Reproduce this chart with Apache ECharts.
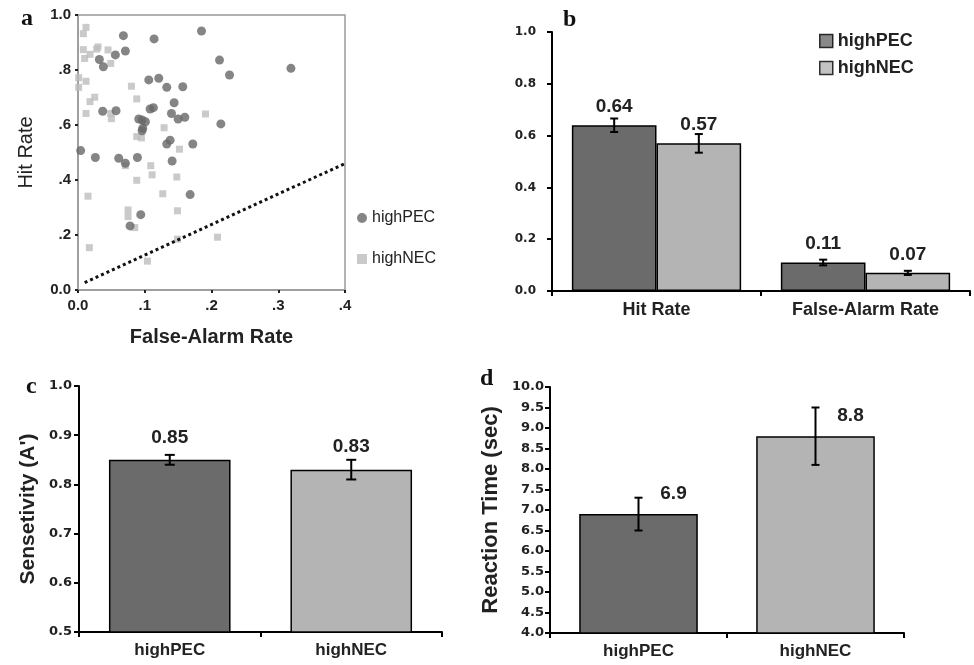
<!DOCTYPE html>
<html><head><meta charset="utf-8">
<script src="https://cdn.jsdelivr.net/npm/echarts@6/dist/echarts.min.js"></script>
<style>html,body{margin:0;padding:0;background:#fff}#c{width:974px;height:665px}</style>
</head><body><div id="c"></div>
<script>
// ---- Panel a: scatter ----
const pecFA  = [0.068,0.114,0.185,0.071,0.056,0.032,0.038,0.212,0.227,0.319,0.106,0.121,0.133,0.157,0.144,0.037,0.057,0.108,0.113,0.140,0.150,0.160,0.091,0.096,0.101,0.097,0.096,0.214,0.004,0.026,0.061,0.071,0.089,0.133,0.138,0.172,0.141,0.168,0.094,0.078];
const pecHit = [0.925,0.913,0.942,0.869,0.855,0.838,0.812,0.836,0.782,0.806,0.764,0.770,0.737,0.739,0.681,0.650,0.652,0.658,0.663,0.642,0.622,0.628,0.622,0.618,0.612,0.588,0.579,0.604,0.507,0.482,0.479,0.461,0.482,0.531,0.545,0.531,0.469,0.347,0.274,0.233];
const necFA  = [0.012,0.008,0.008,0.010,0.018,0.028,0.030,0.045,0.049,0.001,0.001,0.012,0.080,0.018,0.025,0.012,0.049,0.050,0.088,0.191,0.129,0.088,0.095,0.152,0.071,0.109,0.111,0.148,0.088,0.015,0.127,0.075,0.075,0.149,0.085,0.149,0.209,0.017,0.104];
const necHit = [0.955,0.932,0.874,0.842,0.857,0.876,0.884,0.873,0.824,0.772,0.737,0.759,0.741,0.685,0.701,0.642,0.642,0.623,0.695,0.640,0.590,0.558,0.553,0.512,0.452,0.452,0.419,0.411,0.399,0.341,0.350,0.291,0.267,0.288,0.227,0.185,0.192,0.154,0.105];
const chanceLine = [[0.01,0.027],[0.4,0.46]];
const aXTicks = {0:'0.0',0.1:'.1',0.2:'.2',0.3:'.3',0.4:'.4'};
const aYTicks = {0:'0.0',0.2:'.2',0.4:'.4',0.6:'.6',0.8:'.8',1:'1.0'};

// ---- Panel b ----
const groups = ['highPEC','highNEC'];
const bCategories = ['Hit Rate','False-Alarm Rate'];
const bPEC = [0.64, 0.11];
const bPECErr = [0.026, 0.011];
const bNEC = [0.57, 0.07];
const bNECErr = [0.036, 0.008];

// ---- Panel c ----
const sensitivity = [0.85, 0.83];
const sensErr = [0.01, 0.02];

// ---- Panel d ----
const reactionTime = [6.9, 8.8];
const rtErr = [0.4, 0.7];

const DARK = '#6b6b6b', LIGHT = '#b4b4b4';
const FONT = "'Liberation Sans', Arial, sans-serif";
const WIDE = "'DejaVu Sans', Verdana, sans-serif";

function pairs(xs, ys){ return xs.map((x,i)=>[x, ys[i]]); }
function errData(v, e){ return v.map((m,i)=>[i, m-e[i], m+e[i]]); }
function errRender(frac, cap){
  return function(params, api){
    const x = api.value(0);
    const w = api.size([1,0])[0];
    const dx = frac * w;
    const lo = api.coord([x, api.value(1)]);
    const hi = api.coord([x, api.value(2)]);
    const cx = lo[0] + dx;
    const st = {stroke:'#000', lineWidth:2};
    return {type:'group', children:[
      {type:'line', shape:{x1:cx,y1:lo[1],x2:cx,y2:hi[1]}, style:st},
      {type:'line', shape:{x1:cx-cap,y1:lo[1],x2:cx+cap,y2:lo[1]}, style:st},
      {type:'line', shape:{x1:cx-cap,y1:hi[1],x2:cx+cap,y2:hi[1]}, style:st}
    ]};
  };
}
const barAxisLine = {show:true, lineStyle:{color:'#000', width:2}};
const barTick = {show:true, inside:false, length:5, lineStyle:{color:'#000', width:2}};
const tickLabel = (sz, fam)=>({color:'#222', fontFamily:fam||FONT, fontWeight:'bold', fontSize:sz});
const catStyle = (sz)=>({color:'#222', fontFamily:FONT, fontWeight:'bold', fontSize:sz});
const nameStyle = (sz)=>({color:'#222', fontFamily:FONT, fontWeight:'bold', fontSize:sz});
const valLabel = {fontFamily:FONT, fontWeight:'bold', fontSize:19, color:'#222'};
const letter = (t,l,tp)=>({text:t, left:l, top:tp, textStyle:{fontFamily:"'Liberation Serif', 'Times New Roman', serif", fontWeight:'bold', fontSize:24, color:'#111'}});
const bgap = 0.19;

const option = {
  animation:false,
  backgroundColor:'#fff',
  title:[letter('a',16,2), letter('b',558,3), letter('c',21,370), letter('d',475,362)],
  legend:[
    {left:352, top:205, orient:'vertical', itemWidth:10, itemHeight:10, itemGap:25, selectedMode:false,
     textStyle:{fontFamily:FONT, fontSize:16, color:'#222'},
     data:[{name:'highPEC', icon:'circle', itemStyle:{color:'#666'}},
           {name:'highNEC', icon:'rect', itemStyle:{color:'#bdbdbd'}}]},
    {left:814, top:27, orient:'vertical', itemWidth:13, itemHeight:13, itemGap:9, selectedMode:false,
     textStyle:{fontFamily:FONT, fontSize:18, fontWeight:'bold', color:'#222'},
     data:[{name:'highPEC', icon:'rect', itemStyle:{color:DARK, borderColor:'#000', borderWidth:1.5}},
           {name:'highNEC', icon:'rect', itemStyle:{color:LIGHT, borderColor:'#000', borderWidth:1.5}}]}
  ],
  grid:[
    {left:78, top:15, width:267, height:275, show:true, borderColor:'#999', borderWidth:1.5, backgroundColor:'transparent'},
    {left:552, top:32, width:418, height:259},
    {left:79, top:386, width:363, height:246},
    {left:550, top:387, width:354, height:246}
  ],
  xAxis:[
    {gridIndex:0, type:'value', min:0, max:0.4, interval:0.1, splitLine:{show:false},
     axisLine:{show:true, lineStyle:{color:'#999', width:1.5}},
     axisTick:{show:true, length:3, lineStyle:{color:'#222', width:2}},
     axisLabel:Object.assign(tickLabel(15), {formatter:v=>aXTicks[Math.round(v*10)/10], margin:8}),
     name:'False-Alarm Rate', nameLocation:'middle', nameGap:37, nameTextStyle:nameStyle(20)},
    {gridIndex:1, type:'category', data:bCategories, axisLine:barAxisLine, axisTick:barTick,
     axisLabel:Object.assign(catStyle(18), {margin:10})},
    {gridIndex:2, type:'category', data:groups, axisLine:barAxisLine, axisTick:barTick,
     axisLabel:Object.assign(catStyle(17), {margin:10})},
    {gridIndex:3, type:'category', data:groups, axisLine:barAxisLine, axisTick:barTick,
     axisLabel:Object.assign(catStyle(17), {margin:10})}
  ],
  yAxis:[
    {gridIndex:0, type:'value', min:0, max:1, interval:0.2, splitLine:{show:false},
     axisLine:{show:true, lineStyle:{color:'#999', width:1.5}},
     axisTick:{show:true, length:3, lineStyle:{color:'#222', width:2}},
     axisLabel:Object.assign(tickLabel(15), {formatter:v=>aYTicks[Math.round(v*10)/10], margin:7}),
     name:'Hit Rate', nameLocation:'middle', nameGap:42, nameTextStyle:{color:'#222', fontFamily:FONT, fontSize:20}},
    {gridIndex:1, type:'value', min:0, max:1, interval:0.2, splitLine:{show:false},
     axisLine:barAxisLine, axisTick:barTick,
     axisLabel:Object.assign(tickLabel(12, WIDE), {formatter:v=>v.toFixed(1), margin:16})},
    {gridIndex:2, type:'value', min:0.5, max:1, interval:0.1, splitLine:{show:false},
     axisLine:barAxisLine, axisTick:barTick,
     axisLabel:Object.assign(tickLabel(13, WIDE), {formatter:v=>v.toFixed(1), margin:7}),
     name:"Sensetivity (A')", nameLocation:'middle', nameGap:40, nameTextStyle:nameStyle(21)},
    {gridIndex:3, type:'value', min:4, max:10, interval:0.5, splitLine:{show:false},
     axisLine:barAxisLine, axisTick:barTick,
     axisLabel:Object.assign(tickLabel(13, WIDE), {formatter:v=>v.toFixed(1), margin:6}),
     name:'Reaction Time (sec)', nameLocation:'middle', nameGap:48, nameTextStyle:nameStyle(22)}
  ],
  series:[
    {type:'scatter', name:'highNEC', xAxisIndex:0, yAxisIndex:0, data:pairs(necFA, necHit),
     symbol:'rect', symbolSize:7, itemStyle:{color:'#bdbdbd'}},
    {type:'scatter', name:'highPEC', xAxisIndex:0, yAxisIndex:0, data:pairs(pecFA, pecHit),
     symbol:'circle', symbolSize:9, itemStyle:{color:'#666'}},
    {type:'line', xAxisIndex:0, yAxisIndex:0, data:chanceLine, symbol:'none',
     lineStyle:{color:'#111', width:3, type:[3,3]}},

    {type:'bar', name:'highPEC', xAxisIndex:1, yAxisIndex:1, data:bPEC, barGap:'0%', barCategoryGap:'19%',
     itemStyle:{color:DARK, borderColor:'#000', borderWidth:1.5},
     label:Object.assign({show:true, position:'top', distance:9, formatter:p=>p.value.toFixed(2)}, valLabel)},
    {type:'bar', name:'highNEC', xAxisIndex:1, yAxisIndex:1, data:bNEC, barGap:'0%', barCategoryGap:'19%',
     itemStyle:{color:LIGHT, borderColor:'#000', borderWidth:1.5},
     label:Object.assign({show:true, position:'top', distance:9, formatter:p=>p.value.toFixed(2)}, valLabel)},
    {type:'custom', xAxisIndex:1, yAxisIndex:1, data:errData(bPEC,bPECErr), renderItem:errRender(-(1-bgap)/4, 4), z:5, encode:{x:0,y:[1,2]}},
    {type:'custom', xAxisIndex:1, yAxisIndex:1, data:errData(bNEC,bNECErr), renderItem:errRender((1-bgap)/4, 4), z:5, encode:{x:0,y:[1,2]}},

    {type:'bar', xAxisIndex:2, yAxisIndex:2, barCategoryGap:'33%',
     data:sensitivity.map((v,i)=>({value:v, itemStyle:{color:i?LIGHT:DARK}})),
     itemStyle:{borderColor:'#000', borderWidth:1.5},
     label:Object.assign({show:true, position:'top', distance:13, formatter:p=>p.value.toFixed(2)}, valLabel)},
    {type:'custom', xAxisIndex:2, yAxisIndex:2, data:errData(sensitivity,sensErr), renderItem:errRender(0, 5), z:5, encode:{x:0,y:[1,2]}},

    {type:'bar', xAxisIndex:3, yAxisIndex:3, barCategoryGap:'33%',
     data:reactionTime.map((v,i)=>({value:v, itemStyle:{color:i?LIGHT:DARK}})),
     itemStyle:{borderColor:'#000', borderWidth:1.5},
     label:Object.assign({show:true, position:'top', distance:11, offset:[35,0], formatter:p=>p.value.toFixed(1)}, valLabel)},
    {type:'custom', xAxisIndex:3, yAxisIndex:3, data:errData(reactionTime,rtErr), renderItem:errRender(0, 4), z:5, encode:{x:0,y:[1,2]}}
  ]
};
echarts.init(document.getElementById('c')).setOption(option);
</script></body></html>
